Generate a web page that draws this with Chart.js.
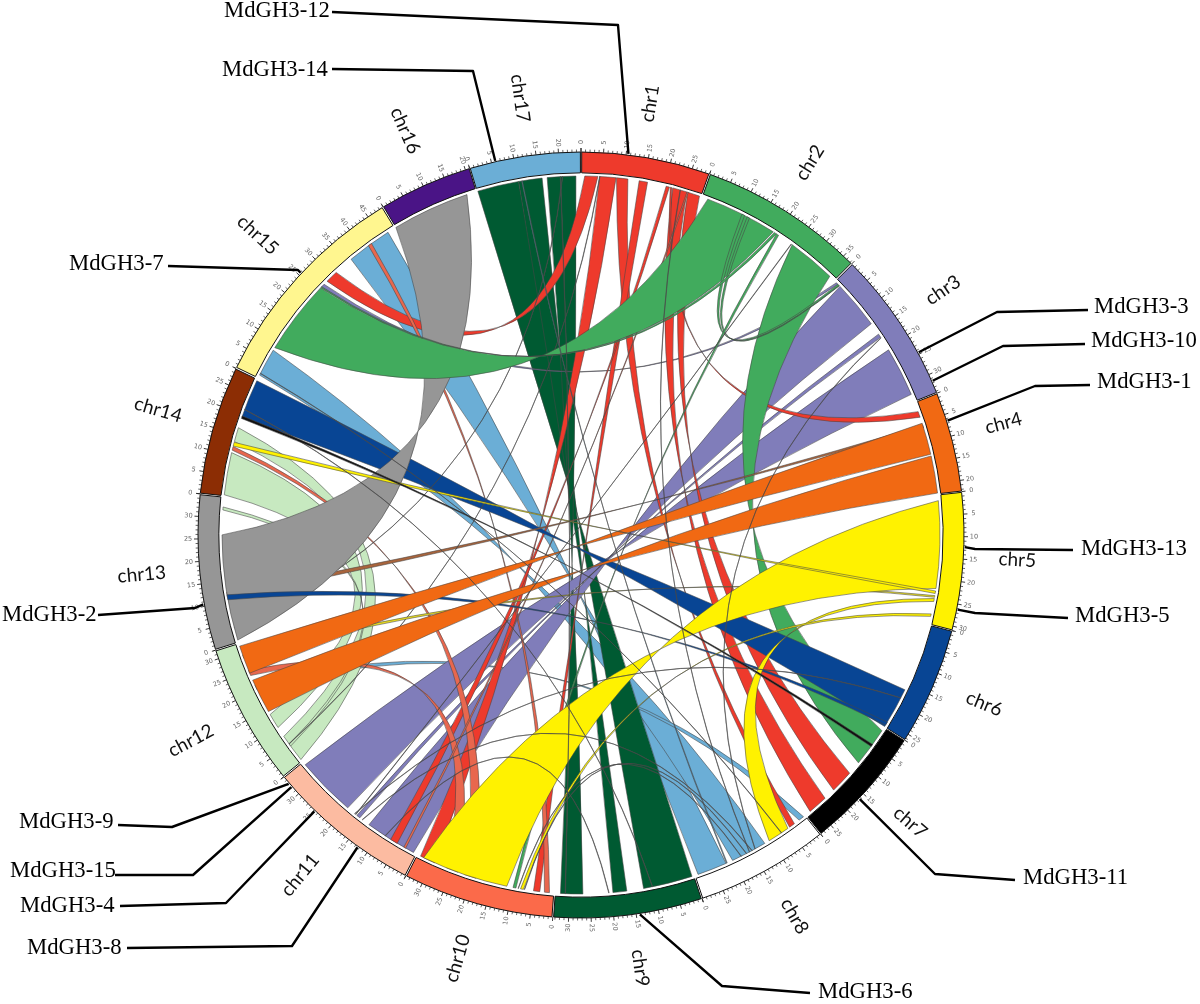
<!DOCTYPE html>
<html><head><meta charset="utf-8">
<script src="https://cdn.jsdelivr.net/npm/chart.js@4"></script>
<style>html,body{margin:0;padding:0;background:#fff}#w{width:1200px;height:1004px;position:relative}</style>
</head><body><div id="w"><canvas id="c" width="1200" height="1004"></canvas></div>
<script>
const chrNames=['chr1','chr2','chr3','chr4','chr5','chr6','chr7','chr8','chr9','chr10','chr11','chr12','chr13','chr14','chr15','chr16','chr17'];
const chrLengths=[29,37.5,34.5,22.5,31,26.5,28,30,33.5,34,35,32,35,29,49,21,25];
const chrColors=['#EE3A2C','#41AB5D','#807DBA','#F16913','#FFF200','#084594','#000000','#FFFFFF','#005A32','#FB6A4A','#FCBBA1','#C7E9C0','#969696','#8C2D04','#FFF68F','#4A1486','#6BAED6'];
// Links: [chrA, startA, endA, chrB, startB, endB] in Mb; startA pairs with startB.
const blueLinks=[[15,36.1,46.9,8,22.0,29.1],[15,1.0,7.7,8,11.7,20.3],[12,20.1,21.3,8,0.6,1.9]];
const darkGreenLinks=[[17,0.3,10.2,9,0.6,12.4],[17,10.2,15.8,9,16.4,19.7],[17,17.0,23.8,9,26.8,32.1]];
const lightGreenLinks=[[14,0.4,10.5,12,13.5,9.9],[14,13.2,16.6,12,7.4,0.6],[13,31.8,32.5,12,4.6,5.2]];
const purpleLinks=[[3,1.8,13.3,11,0.9,13.3],[3,20.7,32.5,11,19.7,34],[3,16.3,17.2,11,16,16.9],[15,26.5,27.4,3,0.6,1.1]];
const redLinks=[[1,0.9,4.0,15,28.4,31.4],[1,4.4,8.3,10,29.3,33],[1,8.4,11.1,8,3.3,4.7],[1,13.8,15.8,10,3.5,5],[1,20.3,21.1,11,5.3,7.1],[1,21.9,25.4,7,21.9,26.6],[1,25.6,28.5,7,13.6,19.1],[4,2.4,3.8,1,21.3,21.7]];
const salmonLinks=[[14,11.1,12,10,18.9,21.8],[15,41.3,42.2,10,1.2,2.4],[12,23.8,25.1,10,23.4,26.3],[1,25.4,25.7,11,3,3.5]];
const greenUnderLinks=[[2,24.3,35.9,7,1,10.4]];
const navyLinks=[[6,16.4,26.3,14,19.2,28.5]];
const navyThinLinks=[[13,10.5,11.7,6,25.1,25.9]];
const brownLinks=[[4,5.8,6.5,13,11.1,12.3]];
const hiddenThinLinks=[[17,20.6,20.7,13,3.7,3.8],[1,4.4,4.5,12,5.2,5.3]];
const greyLinks=[[16,0.1,18.6,13,0.7,25.9]];
const greenLinks=[[2,1.6,18.9,15,8.4,26.2],[2,10.4,11.1,3,1.1,1.5],[2,11.8,12.4,3,1.5,1.6],[2,19.2,19.8,15,26.3,26.6],[2,19.8,20.4,10,9.2,9.9]];
const paleYellowLinks=[[5,24,24.4,12,28.2,29]];
const orangeLinks=[[4,5.3,12.9,12,24.4,31.2],[4,13.3,22.2,12,14.3,22.6]];
const yellowLinks=[[5,1.5,22.3,10,11.4,32.2],[5,22.9,23.5,14,12.1,13],[5,24.7,25.4,8,5.2,10.5],[5,28.4,29,10,7.4,8.1]];
const blackLinks=[[7,4.9,5.5,14,18.9,19.5]];
const thinLinks=[[15,1.4,1.5,8,7,7.1],[17,20.1,20.2,9,30.9,31],[14,21.1,21.2,9,10.2,10.3],[2,24,24.1,11,17.2,17.3],[10,8.6,8.7,8,18,18.1],[10,7.1,7.2,8,16.6,16.7],[11,15.2,15.3,8,15.1,15.2],[6,18.5,18.6,11,17.5,17.6],[9,20.6,20.7,11,8.6,8.7],[1,23.7,23.8,8,15.8,15.9],[3,17.3,17.4,8,14.3,14.4]];
const steelLinks=[[17,10.9,11.1,8,21.7,21.9]];
const linkLayers=[[blueLinks,'#6BAED6'],[darkGreenLinks,'#005A32'],[lightGreenLinks,'#C7E9C0'],[purpleLinks,'#807DBA'],[redLinks,'#EE3A2C'],[salmonLinks,'#E8674E'],[greenUnderLinks,'#41AB5D'],[navyLinks,'#084594'],[brownLinks,'#A8643C'],[hiddenThinLinks,'#6A6A6A'],[greyLinks,'#969696'],[navyThinLinks,'#084594'],[greenLinks,'#41AB5D'],[paleYellowLinks,'#E8DC20'],[orangeLinks,'#F16913'],[yellowLinks,'#FFF200'],[steelLinks,'#5F8FAF'],[thinLinks,'#6A6A6A'],[blackLinks,'#111111']];
// Gene call-outs
const geneNames=['MdGH3-12','MdGH3-14','MdGH3-7','MdGH3-3','MdGH3-10','MdGH3-1','MdGH3-13','MdGH3-5','MdGH3-11','MdGH3-6','MdGH3-8','MdGH3-4','MdGH3-15','MdGH3-9','MdGH3-2'];
const geneChr=[1,17,15,3,3,4,5,5,7,9,11,11,11,11,13];
const geneMb=[10.5,5.9,25.6,24.6,31.6,6.5,12.3,26.2,16.4,14.2,12.4,24.8,32.2,33.1,10.5];
const geneTextX=[224,222,69,1094,1091,1097,1081,1075,1023,818,27,20,10,19,2];
const geneTextY=[11,70,264,307,341,382,549,616,878,992,948,906,871,822,615];
const leaderStart=[[332,12],[332,69],[168,266],[1088,310],[1085,344],[1090,385],[1073,550],[1068,618],[1015,880],[810,993],[127,948],[120,906],[115,875],[118,825],[98,615]];
const leaderElbow=[[618,25],[473,71],[298,270],[997,312],[1003,346],[1035,386],[975,549],[975,613],[935,874],[722,986],[292,946],[226,903],[193,875],[172,827],[195,608]];

const ribbonPlugin={id:'ribbons',afterDatasetsDraw(chart){
  const ctx=chart.ctx, arcs=chart.getDatasetMeta(0).data;
  const cx=arcs[0].x, cy=arcs[0].y, R=383, ribbonR=359;
  const TAU=Math.PI*2;
  const ang=(c,mb)=>{const a=arcs[c-1];return a.startAngle+(a.endAngle-a.startAngle)*mb/chrLengths[c-1];};
  const pt=(a,r)=>[cx+r*Math.cos(a),cy+r*Math.sin(a)];
  const ctrl=(a,b)=>{
    let dl=((b-a)%TAU+TAU)%TAU; if(dl>Math.PI) dl-=TAU;
    const m=a+dl/2, frac=1-Math.abs(dl)/Math.PI;
    return pt(m,ribbonR*0.43*frac);
  };
  ctx.save();
  for(const [rows,color] of linkLayers){
    for(const [ca,a0,a1,cb,b0,b1] of rows){
      const A0=ang(ca,a0),A1=ang(ca,a1),B0=ang(cb,b0),B1=ang(cb,b1);
      const c1=ctrl(A1,B1),c0=ctrl(B0,A0),e1=pt(B1,ribbonR),e0=pt(A0,ribbonR);
      ctx.beginPath();
      ctx.arc(cx,cy,ribbonR,A0,A1,A1<A0);
      ctx.quadraticCurveTo(c1[0],c1[1],e1[0],e1[1]);
      ctx.arc(cx,cy,ribbonR,B1,B0,B0<B1);
      ctx.quadraticCurveTo(c0[0],c0[1],e0[0],e0[1]);
      ctx.closePath();
      ctx.fillStyle=color;ctx.fill('evenodd');
      ctx.strokeStyle='rgba(70,70,70,0.8)';ctx.lineWidth=0.7;ctx.stroke();
    }
  }
  ctx.strokeStyle='#222';
  ctx.textAlign='center';ctx.textBaseline='middle';
  arcs.forEach((arc,i)=>{
    const len=chrLengths[i];
    for(let mb=0;mb<=len;mb++){
      const a=ang(i+1,mb),major=mb%5===0;
      const p0=pt(a,R),p1=pt(a,R+(major?4:2.5));
      ctx.strokeStyle='#222';ctx.lineWidth=major?0.9:0.7;
      ctx.beginPath();ctx.moveTo(p0[0],p0[1]);ctx.lineTo(p1[0],p1[1]);ctx.stroke();
      if(major&&len-mb>=1){
        const q=pt(a,R+10),deg=(a+Math.PI/2)*180/Math.PI;
        const rot=(((deg%360)+360)%360)<180?a:a+Math.PI;
        ctx.save();ctx.translate(q[0],q[1]);ctx.rotate(rot);
        ctx.fillStyle='#666';ctx.font='6.5px "DejaVu Sans"';ctx.fillText(String(mb),0,0);ctx.restore();
      }
    }
    const mid0=(arc.startAngle+arc.endAngle)/2;
    const deg0=(((mid0+Math.PI/2)*180/Math.PI)%360+360)%360;
    const left=deg0>=180;
    const mid=mid0+(left?0.009:-0.012),q=pt(mid,R+(left?58:54));
    ctx.save();ctx.translate(q[0],q[1]);ctx.rotate(left?mid+Math.PI:mid);
    ctx.font='19px Lato';ctx.fillStyle='#111';ctx.fillText(chrNames[i],0,0);ctx.restore();
  });
  geneNames.forEach((g,i)=>{
    const e=pt(ang(geneChr[i],geneMb[i]),R+1);
    ctx.strokeStyle='#000';ctx.lineWidth=2.4;ctx.lineJoin='round';
    ctx.beginPath();ctx.moveTo(leaderStart[i][0],leaderStart[i][1]);
    ctx.lineTo(leaderElbow[i][0],leaderElbow[i][1]);ctx.lineTo(e[0],e[1]);ctx.stroke();
    ctx.fillStyle='#000';ctx.font='22.7px "Liberation Serif"';ctx.textAlign='left';
    ctx.fillText(g,geneTextX[i],geneTextY[i]);
    ctx.textAlign='center';
  });
  ctx.restore();
}};

new Chart(document.getElementById('c'),{
  type:'doughnut',
  data:{labels:chrNames,datasets:[{data:chrLengths,backgroundColor:chrColors,borderColor:'#111',borderWidth:1,spacing:8,hoverOffset:0}]},
  options:{responsive:false,animation:false,radius:379,cutout:'94.5%',rotation:0,
    layout:{padding:{left:198,right:236,top:152,bottom:86}},
    plugins:{legend:{display:false},tooltip:{enabled:false}},events:[]},
  plugins:[ribbonPlugin]
});
</script></body></html>
